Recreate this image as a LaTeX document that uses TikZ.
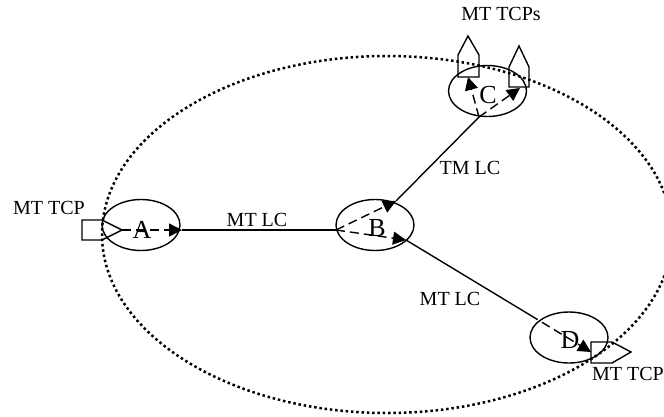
\documentclass[tikz,border=0pt]{standalone}
\usepackage{fontspec}
\setmainfont{Liberation Serif}
\usetikzlibrary{shapes.geometric,arrows.meta}
\tikzset{
  x=1pt,y=-1pt,
  site/.style={draw,ellipse,minimum width=78pt,minimum height=51pt,inner sep=0pt,line width=1.4pt},
  area/.style={draw,ellipse,minimum width=570pt,minimum height=357pt,inner sep=0pt,line width=2.5pt,dash pattern=on 2.5pt off 2.8pt},
  sitename/.style={inner sep=0pt,font=\fontsize{26}{28}\selectfont},
  lab/.style={inner sep=0pt,font=\fontsize{20}{24}\selectfont},
  tcp/.style={line width=1.4pt,line join=miter},
  link/.style={line width=1.4pt},
  dlink/.style={line width=1.4pt,dash pattern=on 9pt off 5pt,-{Triangle[length=13pt,width=13pt]}},
}
\begin{document}
\begin{tikzpicture}
\useasboundingbox (0,0) rectangle (664,416);
\node[area] (net) at (387,234.5) {};
\node[site] (ea) at (141,225) {};
\node[site] (eb) at (375,225) {};
\node[site] (ec) at (487.5,91) {};
\node[site] (ed) at (569,337.5) {};
\coordinate (ta) at (122,230);
\coordinate (aend) at (182,230);
\coordinate (bin) at (336,230);
\coordinate (bc) at (396,201);
\coordinate (bd) at (406,240);
\coordinate (cin) at (479,117);
\coordinate (c1) at (468,77);
\coordinate (c2) at (520,88);
\coordinate (din) at (530,315);
\coordinate (dend) at (591,352);
% TCPs
\draw[tcp] (82,220) -- (102,220) -- (ta) -- (102,240) -- (82,240) -- cycle;
\draw[tcp] (458,77) -- (458,55) -- (468,36) -- (479,55) -- (479,77) -- cycle;
\draw[tcp] (509,87) -- (509,67) -- (519,46) -- (529,67) -- (529,87) -- cycle;
\draw[tcp] (dend |- 0,342) -- (612,342) -- (631,352) -- (612,363) -- (dend |- 0,363) -- cycle;
% connectors
\draw[link] (aend) -- (bin);
\draw[link] (bc) -- (cin);
\draw[link] (bd) -- (din);
\draw[dlink] (ta) -- (aend);
\draw[dlink] (bin) -- (bc);
\draw[dlink] (bin) -- (bd);
\draw[dlink] (cin) -- (c1);
\draw[dlink] (cin) -- (c2);
\draw[dlink] (din) -- (dend);
% names
\node[sitename] (na) at (142,230) {A};
\node[sitename] (nb) at (377,228) {B};
\node[sitename] (nc) at (488,95) {C};
\node[sitename] (nd) at (570,340) {D};
% labels
\node[lab] (l1) at (49,208) {MT TCP};
\node[lab] (l2) at (257,220) {MT LC};
\node[lab] (l3) at (470,168) {TM LC};
\node[lab] (l4) at (450,299) {MT LC};
\node[lab] (l5) at (501,14) {MT TCPs};
\node[lab] (l6) at (628,374) {MT TCP};
\end{tikzpicture}
\end{document}
